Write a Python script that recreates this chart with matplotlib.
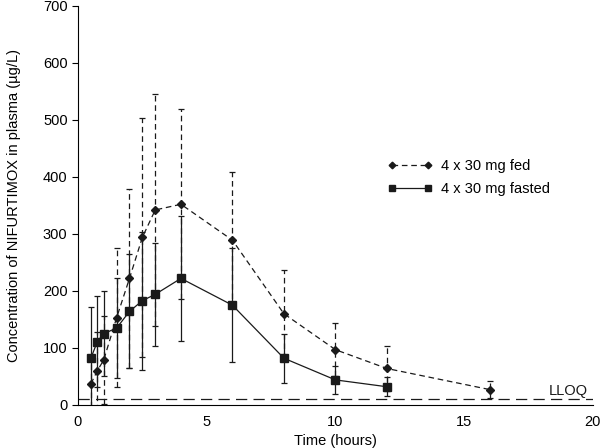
import matplotlib.pyplot as plt
import numpy as np

plt.rcParams['font.family'] = ['Liberation Sans', 'DejaVu Sans']

# fed: 4 x 30 mg
fed_t = [0.5, 0.75, 1, 1.5, 2, 2.5, 3, 4, 6, 8, 10, 12, 16]
fed_mean = [37, 60, 79, 153, 222, 294, 342, 352, 289, 160, 97, 64, 27]
fed_sd = [40, 68, 77, 122, 157, 210, 204, 167, 119, 77, 47, 40, 15]

# fasted: 4 x 30 mg
fasted_t = [0.5, 0.75, 1, 1.5, 2, 2.5, 3, 4, 6, 8, 10, 12]
fasted_mean = [82, 111, 125, 135, 164, 183, 194, 222, 175, 82, 44, 32]
fasted_sd = [89, 80, 75, 88, 100, 121, 90, 110, 100, 43, 24, 17]

lloq = 10

fig = plt.figure(figsize=(6, 4.48), dpi=100)
ax = fig.add_axes([0.13, 0.096, 0.858, 0.891])

dash = (0, (4.5, 3))
eb = ax.errorbar(fed_t, fed_mean, yerr=fed_sd, color='#1a1a1a', lw=0.9,
                 ls=dash, marker='D', ms=4.5, capsize=2.5, elinewidth=0.9,
                 capthick=0.9, label='4 x 30 mg fed')
eb[2][0].set_linestyle(dash)

ax.errorbar(fasted_t, fasted_mean, yerr=fasted_sd, color='#1a1a1a', lw=0.9,
            ls='-', marker='s', ms=5.5, capsize=2.5, elinewidth=0.9,
            capthick=0.9, label='4 x 30 mg fasted')

ax.axhline(lloq, color='#1a1a1a', lw=0.9, ls=(0, (9, 5)))
ax.text(18.3, lloq + 7, 'LLOQ', fontsize=10.5, color='#1a1a1a')

ax.set_xlim(0, 20)
ax.set_ylim(0, 700)
ax.set_xticks([0, 5, 10, 15, 20])
ax.set_yticks(np.arange(0, 701, 100))
ax.spines['top'].set_visible(False)
ax.spines['right'].set_visible(False)
ax.tick_params(axis='x', length=0, labelsize=10.5, pad=7)
ax.tick_params(axis='y', length=4, labelsize=10.5)
ax.set_xlabel('Time (hours)', fontsize=10.5)
ax.set_ylabel('Concentration of NIFURTIMOX in plasma (µg/L)', fontsize=10.5,
              labelpad=16)

handles, labels = ax.get_legend_handles_labels()
handles = [h[0] for h in handles]
ax.legend(handles, labels, loc='upper left', bbox_to_anchor=(0.575, 0.648),
          frameon=False, fontsize=10.5, numpoints=2, handlelength=3.1,
          handletextpad=0.6, markerscale=0.75, labelspacing=0.6)

fig.savefig('out.png', dpi=100)
